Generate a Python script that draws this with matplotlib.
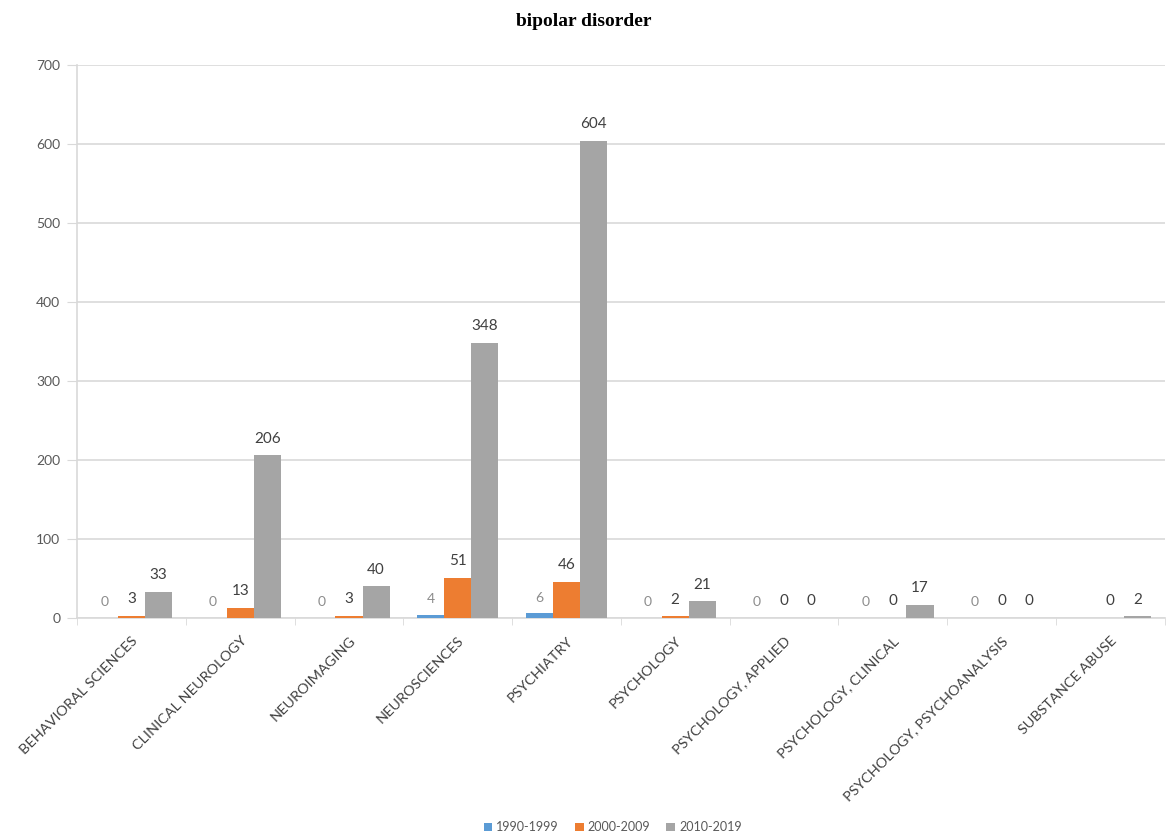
import matplotlib
matplotlib.use('Agg')
import matplotlib.pyplot as plt
import numpy as np

categories = ['BEHAVIORAL SCIENCES', 'CLINICAL NEUROLOGY', 'NEUROIMAGING', 'NEUROSCIENCES',
              'PSYCHIATRY', 'PSYCHOLOGY', 'PSYCHOLOGY, APPLIED', 'PSYCHOLOGY, CLINICAL',
              'PSYCHOLOGY, PSYCHOANALYSIS', 'SUBSTANCE ABUSE']
s1990 = [0, 0, 0, 4, 6, 0, 0, 0, 0, 0]
s2000 = [3, 13, 3, 51, 46, 2, 0, 0, 0, 0]
s2010 = [33, 206, 40, 348, 604, 21, 0, 17, 0, 2]
# the 1990-1999 label of the last group is not shown in the original
show1990 = [True] * 9 + [False]

series = [('1990-1999', s1990, '#5B9BD5'),
          ('2000-2009', s2000, '#ED7D31'),
          ('2010-2019', s2010, '#A5A5A5')]

plt.rcParams['font.family'] = ['Lato', 'DejaVu Sans']
fig = plt.figure(figsize=(11.67, 8.38), dpi=100)
ax = fig.add_axes([0.066, 0.2625, 0.932, 0.66])

x = np.arange(len(categories))
w = 0.25
for k, (name, vals, col) in enumerate(series):
    pos = x + (k - 1) * w
    ax.bar(pos, vals, width=w, color=col, label=name, zorder=3)
    for i, v in enumerate(vals):
        if k == 0:
            if not show1990[i]:
                continue
            ax.annotate(str(v), (pos[i], v), xytext=(0, 7), textcoords='offset points',
                        ha='center', va='bottom', fontsize=10, color='#8c8c8c')
        else:
            ax.annotate(str(v), (pos[i], v), xytext=(0, 7), textcoords='offset points',
                        ha='center', va='bottom', fontsize=11, color='#404040')

ax.set_xlim(-0.5, len(categories) - 0.5)
ax.set_ylim(0, 700)
ax.set_yticks(range(0, 701, 100))
ax.yaxis.grid(True, color='#d9d9d9', linewidth=1.2, zorder=0)
ax.tick_params(axis='y', length=7, color='#d9d9d9', labelsize=10, labelcolor='#595959', pad=5)

ax.set_xticks(x)
ax.set_xticklabels(categories, rotation=45, ha='right', rotation_mode='anchor',
                   fontsize=10.4, color='#404040')
ax.tick_params(axis='x', length=0, pad=12)
ax.set_xticks(np.arange(-0.5, len(categories)), minor=True)
ax.tick_params(axis='x', which='minor', length=5, color='#d9d9d9')

for side in ['top', 'right']:
    ax.spines[side].set_visible(False)
for side in ['left', 'bottom']:
    ax.spines[side].set_color('#d9d9d9')
    ax.spines[side].set_linewidth(1.2)

fig.suptitle('bipolar disorder', y=0.985, fontsize=14, fontweight='bold',
             family='Liberation Serif')

fig.legend(loc='lower center', ncol=3, frameon=False, fontsize=9,
           bbox_to_anchor=(0.525, -0.008), handlelength=0.7, handleheight=0.7,
           handletextpad=0.3, columnspacing=1.3, labelcolor='#595959')

fig.savefig('out.png', dpi=100)
